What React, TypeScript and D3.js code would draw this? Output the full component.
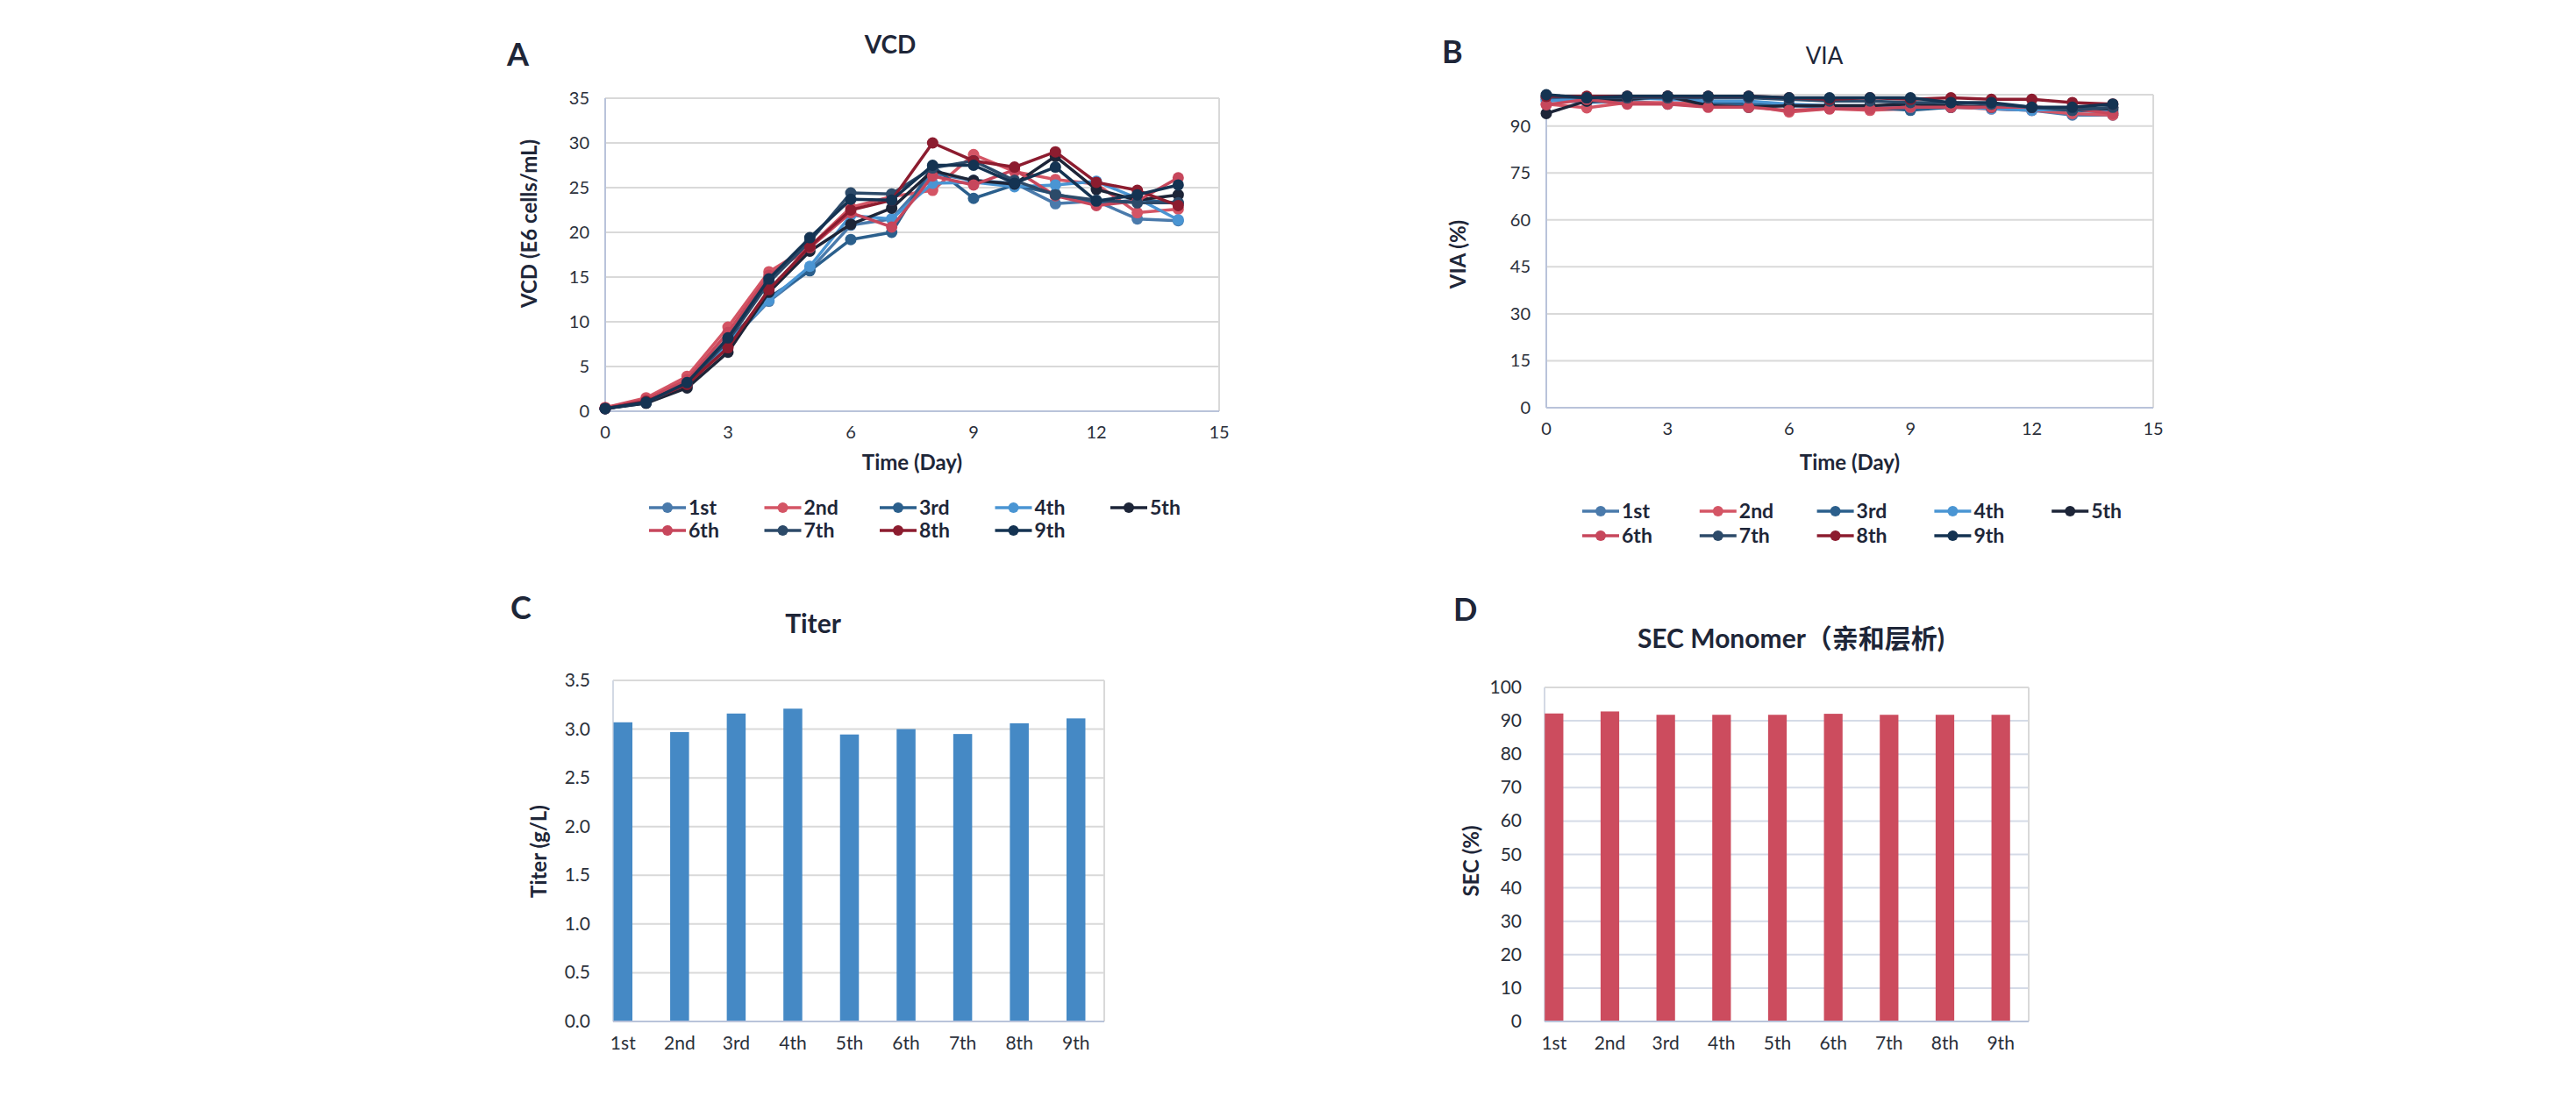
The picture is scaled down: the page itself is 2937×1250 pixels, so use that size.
import * as d3 from "d3";

// ---- data ----
const runs = ["1st", "2nd", "3rd", "4th", "5th", "6th", "7th", "8th", "9th"];
const runColors = ["#4a7aab", "#d45565", "#2b5f8c", "#4a95d3", "#1d2538", "#c7475c", "#2c4a69", "#8c1c2f", "#143352"];
const days = [0, 1, 2, 3, 4, 5, 6, 7, 8, 9, 10, 11, 12, 13, 14];

const vcd1st = [0.3, 1.0, 2.8, 7.5, 12.3, 15.8, 20.8, 21.5, 26.6, 25.8, 25.5, 23.2, 23.5, 21.5, 21.3];
const vcd2nd = [0.4, 1.5, 3.9, 9.4, 15.6, 18.4, 22.8, 24.0, 24.7, 28.7, 26.8, 25.9, 25.4, 22.2, 22.6];
const vcd3rd = [0.3, 0.9, 3.0, 7.8, 12.7, 15.7, 19.2, 20.0, 27.4, 23.8, 25.3, 24.3, 23.2, 23.6, 23.3];
const vcd4th = [0.3, 1.0, 2.9, 7.7, 12.4, 16.2, 21.9, 21.5, 25.5, 25.6, 25.1, 25.3, 25.7, 23.8, 21.4];
const vcd5th = [0.3, 0.9, 2.6, 6.6, 13.3, 17.9, 20.9, 22.7, 26.9, 25.8, 25.4, 28.5, 24.8, 23.6, 24.2];
const vcd6th = [0.4, 1.3, 3.5, 8.8, 15.2, 18.3, 22.2, 20.6, 26.3, 25.3, 27.0, 24.1, 23.0, 23.5, 26.1];
const vcd7th = [0.3, 1.0, 3.1, 7.9, 14.4, 19.0, 24.4, 24.3, 27.2, 28.0, 25.8, 24.2, 23.6, 23.3, 23.3];
const vcd8th = [0.3, 1.1, 3.0, 7.1, 13.6, 18.4, 22.5, 23.6, 30.0, 28.0, 27.3, 29.0, 25.6, 24.7, 23.0];
const vcd9th = [0.3, 1.0, 3.2, 8.2, 14.8, 19.4, 23.7, 23.6, 27.5, 27.5, 25.5, 27.3, 23.5, 24.2, 25.3];

const via1st = [98.5, 97.5, 98.0, 97.0, 96.5, 96.5, 96.5, 96.0, 96.0, 95.5, 96.0, 95.5, 95.0, 93.5, 93.5];
const via2nd = [97.0, 95.8, 97.5, 97.5, 97.0, 96.5, 94.5, 95.5, 95.0, 95.5, 96.0, 95.5, 95.0, 94.0, 93.5];
const via3rd = [99.0, 98.0, 98.5, 99.0, 97.5, 97.0, 96.5, 96.5, 96.0, 95.0, 96.0, 96.0, 95.5, 95.0, 94.5];
const via4th = [98.0, 98.5, 99.0, 98.5, 98.0, 98.0, 97.0, 96.5, 96.5, 96.0, 96.5, 95.5, 95.0, 95.5, 95.0];
const via5th = [94.0, 98.0, 98.5, 99.5, 96.5, 96.0, 96.5, 96.5, 96.5, 97.0, 96.5, 96.0, 96.0, 95.5, 95.5];
const via6th = [96.8, 98.5, 97.0, 97.0, 96.0, 96.0, 95.0, 95.5, 95.5, 96.0, 96.0, 96.0, 96.0, 95.5, 94.0];
const via7th = [99.5, 99.0, 99.0, 99.0, 99.0, 99.0, 98.5, 98.0, 98.0, 97.5, 97.5, 97.0, 96.0, 95.0, 96.0];
const via8th = [99.5, 99.5, 99.5, 99.5, 99.5, 99.5, 99.0, 98.5, 99.0, 98.5, 99.0, 98.5, 98.5, 97.5, 97.0];
const via9th = [100, 99.0, 99.5, 99.5, 99.5, 99.5, 99.0, 99.0, 99.0, 99.0, 97.5, 97.5, 96.0, 96.0, 97.0];

const titerValues = [3.07, 2.97, 3.16, 3.21, 2.945, 3.0, 2.95, 3.06, 3.11];
const secValues = [92.2, 92.8, 91.8, 91.8, 91.8, 92.1, 91.8, 91.8, 91.8];

const dayTicks = [0, 3, 6, 9, 12, 15];
const vcdTicks = [0, 5, 10, 15, 20, 25, 30, 35];
const viaTicks = [0, 15, 30, 45, 60, 75, 90];
const titerTicks = [0, 0.5, 1.0, 1.5, 2.0, 2.5, 3.0, 3.5];
const secTicks = [0, 10, 20, 30, 40, 50, 60, 70, 80, 90, 100];

const vcdData = [vcd1st, vcd2nd, vcd3rd, vcd4th, vcd5th, vcd6th, vcd7th, vcd8th, vcd9th];
const viaData = [via1st, via2nd, via3rd, via4th, via5th, via6th, via7th, via8th, via9th];

const FONT = "Lato, 'Noto Sans', 'Noto Sans CJK SC', sans-serif";
const INK = "#1e2638";
const GRID = "#d9d9d9";
const AXIS = "#b9c3da";

interface Box { left: number; right: number; top: number; bottom: number }

interface LineChartProps {
  box: Box;
  yMax: number;
  yTicks: number[];
  data: number[][];
  letter: { x: number; y: number; text: string };
  title: { x: number; y: number; text: string; weight: string; size: number };
  yTitle: { x: number; y: number; text: string };
  legend: { x: number; step: number; rows: number[] };
}

function LineChart({ box, yMax, yTicks, data, letter, title, yTitle, legend }: LineChartProps) {
  const x = d3.scaleLinear().domain([0, 15]).range([box.left, box.right]);
  const y = d3.scaleLinear().domain([0, yMax]).range([box.bottom, box.top]);
  const line = d3
    .line<number>()
    .x((_, i) => x(days[i]))
    .y((v) => y(v));

  return (
    <g fontFamily={FONT}>
      <text x={letter.x} y={letter.y} fontSize={36} fontWeight="bold" fill={INK}>
        {letter.text}
      </text>
      <text x={title.x} y={title.y} fontSize={title.size} fontWeight={title.weight} fill={INK} textAnchor="middle">
        {title.text}
      </text>
      {/* grid + frame */}
      {yTicks.map((t) => (
        <line key={t} x1={box.left} x2={box.right} y1={y(t)} y2={y(t)} stroke={GRID} strokeWidth={2} />
      ))}
      <line x1={box.left} x2={box.right} y1={box.top} y2={box.top} stroke={GRID} strokeWidth={2} />
      <line x1={box.right} x2={box.right} y1={box.top} y2={box.bottom} stroke={GRID} strokeWidth={2} />
      <line x1={box.left} x2={box.left} y1={box.top} y2={box.bottom} stroke={AXIS} strokeWidth={2} />
      <line x1={box.left} x2={box.right} y1={box.bottom} y2={box.bottom} stroke={AXIS} strokeWidth={2} />
      {yTicks.map((t) => (
        <text key={t} x={box.left - 18} y={y(t) + 7} fontSize={20} fill="#2a2f3a" textAnchor="end">
          {t}
        </text>
      ))}
      {dayTicks.map((t) => (
        <text key={t} x={x(t)} y={box.bottom + 31} fontSize={20} fill="#2a2f3a" textAnchor="middle">
          {t}
        </text>
      ))}
      <text x={(box.left + box.right) / 2} y={536} fontSize={24} fontWeight="bold" fill={INK} textAnchor="middle">
        Time (Day)
      </text>
      <text
        transform={`translate(${yTitle.x}, ${yTitle.y}) rotate(-90)`}
        fontSize={24}
        fontWeight="bold"
        fill={INK}
        textAnchor="middle"
      >
        {yTitle.text}
      </text>
      {/* series */}
      {data.map((values, si) => (
        <g key={runs[si]}>
          <path d={line(values) ?? ""} fill="none" stroke={runColors[si]} strokeWidth={3.5} strokeLinejoin="round" />
          {values.map((v, i) => (
            <circle key={i} cx={x(days[i])} cy={y(v)} r={6.5} fill={runColors[si]} />
          ))}
        </g>
      ))}
      {/* legend */}
      {runs.map((name, i) => {
        const col = i % 5;
        const row = Math.floor(i / 5);
        const lx = legend.x + col * legend.step;
        const ly = legend.rows[row];
        return (
          <g key={name}>
            <line x1={lx} x2={lx + 42} y1={ly} y2={ly} stroke={runColors[i]} strokeWidth={3.5} />
            <circle cx={lx + 21} cy={ly} r={6} fill={runColors[i]} />
            <text x={lx + 45} y={ly + 8} fontSize={23} fontWeight="bold" fill={INK}>
              {name}
            </text>
          </g>
        );
      })}
    </g>
  );
}

interface BarChartProps {
  box: Box;
  bandStart: number;
  yMax: number;
  yTicks: number[];
  tickFormat: (v: number) => string;
  values: number[];
  color: string;
  gridColor: string;
  letter: { x: number; y: number; text: string };
  title: { x: number; y: number; text: string };
  yTitle: { x: number; y: number; text: string };
}

function BarChart({ box, bandStart, yMax, yTicks, tickFormat, values, color, gridColor, letter, title, yTitle }: BarChartProps) {
  const x = d3.scaleBand<string>().domain(runs).range([bandStart, box.right]).padding(0);
  const y = d3.scaleLinear().domain([0, yMax]).range([box.bottom, box.top]);
  const barW = x.bandwidth() / 3;

  return (
    <g fontFamily={FONT}>
      <text x={letter.x} y={letter.y} fontSize={36} fontWeight="bold" fill={INK}>
        {letter.text}
      </text>
      <text x={title.x} y={title.y} fontSize={30} fontWeight="bold" fill={INK} textAnchor="middle">
        {title.text}
      </text>
      {yTicks.map((t) => (
        <line key={t} x1={box.left} x2={box.right} y1={y(t)} y2={y(t)} stroke={gridColor} strokeWidth={2} />
      ))}
      <line x1={box.left} x2={box.right} y1={box.top} y2={box.top} stroke={GRID} strokeWidth={2} />
      <line x1={box.right} x2={box.right} y1={box.top} y2={box.bottom} stroke={GRID} strokeWidth={2} />
      <line x1={box.left} x2={box.left} y1={box.top} y2={box.bottom} stroke="#d3d9e4" strokeWidth={2} />
      {values.map((v, i) => {
        const cx = (x(runs[i]) ?? 0) + x.bandwidth() / 2;
        return <rect key={runs[i]} x={cx - barW / 2} y={y(v)} width={barW} height={y(0) - y(v)} fill={color} />;
      })}
      <line x1={box.left} x2={box.right} y1={box.bottom} y2={box.bottom} stroke={AXIS} strokeWidth={2} />
      {yTicks.map((t) => (
        <text key={t} x={box.left - 26} y={y(t) + 7} fontSize={21} fill="#2a2f3a" textAnchor="end">
          {tickFormat(t)}
        </text>
      ))}
      {runs.map((name) => (
        <text
          key={name}
          x={(x(name) ?? 0) + x.bandwidth() / 2}
          y={box.bottom + 32}
          fontSize={21}
          fill="#2a2f3a"
          textAnchor="middle"
        >
          {name}
        </text>
      ))}
      <text
        transform={`translate(${yTitle.x}, ${yTitle.y}) rotate(-90)`}
        fontSize={24}
        fontWeight="bold"
        fill={INK}
        textAnchor="middle"
      >
        {yTitle.text}
      </text>
    </g>
  );
}

export default function App() {
  return (
    <svg
      width={2937}
      height={1250}
      viewBox="0 0 2937 1250"
      style={{ position: "absolute", left: 0, top: 0, background: "#fff" }}
    >
      <rect width={2937} height={1250} fill="#fff" />
      <LineChart
        box={{ left: 690, right: 1390, top: 112, bottom: 469 }}
        yMax={35}
        yTicks={vcdTicks}
        data={vcdData}
        letter={{ x: 578, y: 75, text: "A" }}
        title={{ x: 1015, y: 61, text: "VCD", weight: "bold", size: 28 }}
        yTitle={{ x: 612, y: 255, text: "VCD (E6 cells/mL)" }}
        legend={{ x: 740, step: 131.5, rows: [579, 605] }}
      />
      <LineChart
        box={{ left: 1763, right: 2455, top: 108, bottom: 465 }}
        yMax={100}
        yTicks={viaTicks}
        data={viaData}
        letter={{ x: 1644, y: 72, text: "B" }}
        title={{ x: 2080, y: 73, text: "VIA", weight: "normal", size: 26 }}
        yTitle={{ x: 1671, y: 290, text: "VIA (%)" }}
        legend={{ x: 1804, step: 133.8, rows: [583, 611] }}
      />
      <BarChart
        box={{ left: 699, right: 1259, top: 776, bottom: 1165 }}
        bandStart={678}
        yMax={3.5}
        yTicks={titerTicks}
        tickFormat={(v) => v.toFixed(1)}
        values={titerValues}
        color="#4589c5"
        gridColor={GRID}
        letter={{ x: 582, y: 706, text: "C" }}
        title={{ x: 927, y: 722, text: "Titer" }}
        yTitle={{ x: 623, y: 971, text: "Titer (g/L)" }}
      />
      <BarChart
        box={{ left: 1761, right: 2313, top: 784, bottom: 1165 }}
        bandStart={1740}
        yMax={100}
        yTicks={secTicks}
        tickFormat={(v) => String(v)}
        values={secValues}
        color="#cc4c5e"
        gridColor="#d5dbe7"
        letter={{ x: 1657, y: 708, text: "D" }}
        title={{ x: 2042, y: 739, text: "SEC Monomer（亲和层析)" }}
        yTitle={{ x: 1686, y: 982, text: "SEC (%)" }}
      />
    </svg>
  );
}
